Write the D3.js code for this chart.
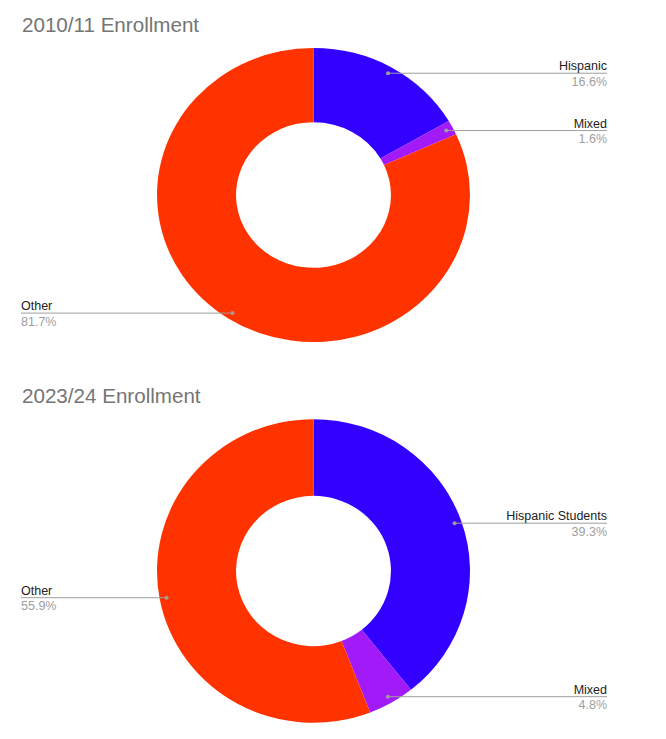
<!DOCTYPE html>
<html>
<head>
<meta charset="utf-8">
<script src="https://cdn.jsdelivr.net/npm/d3@7"></script>
<style>
html,body{margin:0;padding:0;background:#fff;}
svg{display:block;font-family:"Liberation Sans",Arial,sans-serif;}
</style>
</head>
<body>
<svg id="chart" width="666" height="739"></svg>
<script>
const titles = ["2010/11 Enrollment", "2023/24 Enrollment"];
const categories2010 = ["Hispanic", "Mixed", "Other"];
const values2010 = [16.6, 1.6, 81.7];
const categories2023 = ["Hispanic Students", "Mixed", "Other"];
const values2023 = [39.3, 4.8, 55.9];
const sliceColors = ["#3300ff", "#a11af7", "#ff3300"];

const svg = d3.select("#chart");

const panels = [
  {title: titles[0], cats: categories2010, vals: values2010, cx: 313.5, cy: 195, rx: 156.5, sy: 0.94, titleY: 32},
  {title: titles[1], cats: categories2023, vals: values2023, cx: 313.5, cy: 571, rx: 156.5, sy: 0.97, titleY: 403}
];

const pie = d3.pie().sort(null).value(d => d.v);

panels.forEach(p => {
  const data = p.cats.map((c, i) => ({c, v: p.vals[i], i}));
  const arcs = pie(data);
  const arc = d3.arc().innerRadius(p.rx * 0.495).outerRadius(p.rx);
  const dotArc = d3.arc().innerRadius(p.rx * 0.955).outerRadius(p.rx * 0.955);

  svg.append("text")
    .attr("x", 22).attr("y", p.titleY)
    .attr("font-size", 20.6).attr("fill", "#757575")
    .text(p.title);

  const g = svg.append("g")
    .attr("transform", `translate(${p.cx},${p.cy}) scale(1,${p.sy})`);
  g.selectAll("path").data(arcs).join("path")
    .attr("d", arc)
    .attr("fill", d => sliceColors[d.data.i]);

  const lg = svg.append("g");
  arcs.forEach(a => {
    const [mx, my] = dotArc.centroid(a);
    const x = p.cx + mx, y = p.cy + my * p.sy;
    const right = mx > 0;
    const xEnd = right ? 607 : 21;
    lg.append("line")
      .attr("x1", x).attr("y1", y).attr("x2", xEnd).attr("y2", y)
      .attr("stroke", "#9e9e9e").attr("stroke-width", 1);
    lg.append("circle").attr("cx", x).attr("cy", y).attr("r", 2).attr("fill", "#9e9e9e");
    lg.append("text")
      .attr("x", xEnd).attr("y", y - 3)
      .attr("text-anchor", right ? "end" : "start")
      .attr("font-size", 12.5).attr("fill", "#222")
      .text(a.data.c);
    lg.append("text")
      .attr("x", xEnd).attr("y", y + 12.5)
      .attr("text-anchor", right ? "end" : "start")
      .attr("font-size", 12.5).attr("fill", "#9e9e9e")
      .text(a.data.v.toFixed(1) + "%");
  });
});
</script>
</body>
</html>
